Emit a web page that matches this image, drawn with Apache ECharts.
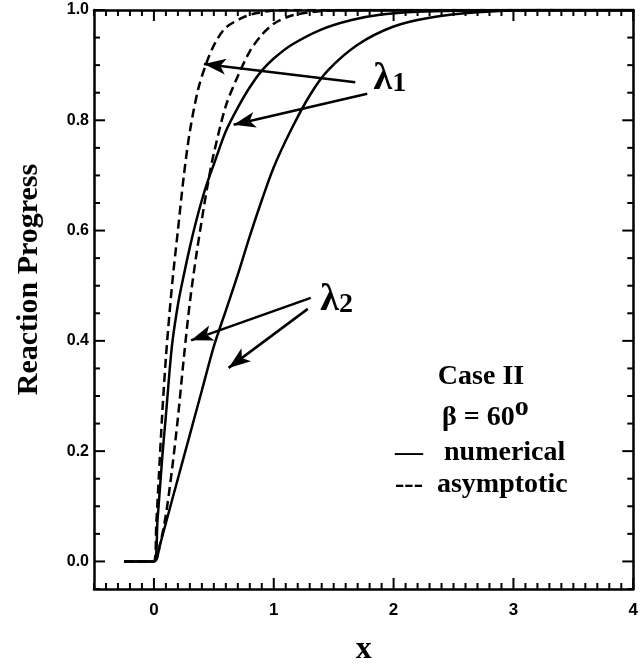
<!DOCTYPE html>
<html><head><meta charset="utf-8">
<script src="https://cdn.jsdelivr.net/npm/echarts@6/dist/echarts.min.js"></script>
<style>html,body{margin:0;padding:0;background:#fff}#c{width:641px;height:671px}</style>
</head><body><div id="c"></div>
<script>
// ---- data ----
const xTickValues = [0, 1, 2, 3, 4];
const yTickValues = [0, 0.2, 0.4, 0.6, 0.8, 1.0];

const lambda1NumX = [-0.25, 0, 0.03, 0.07, 0.1, 0.15, 0.2, 0.25, 0.3, 0.35, 0.4, 0.45, 0.5, 0.6, 0.7, 0.8, 0.9, 1.0, 1.15, 1.4, 1.65, 1.9, 2.2, 2.6, 3.0, 4.0];
const lambda1NumY = [0, 0, 0.075, 0.19, 0.265, 0.39, 0.465, 0.52, 0.57, 0.615, 0.655, 0.69, 0.72, 0.78, 0.823, 0.86, 0.89, 0.912, 0.937, 0.965, 0.982, 0.992, 0.997, 0.999, 1.0, 1.0];

const lambda2NumX = [-0.25, 0, 0.05, 0.1, 0.2, 0.3, 0.4, 0.5, 0.6, 0.7, 0.8, 0.9, 1.0, 1.15, 1.3, 1.45, 1.7, 2.0, 2.3, 2.7, 3.2, 4.0];
const lambda2NumY = [0, 0, 0.03, 0.07, 0.15, 0.23, 0.31, 0.39, 0.455, 0.52, 0.59, 0.655, 0.715, 0.785, 0.845, 0.89, 0.937, 0.97, 0.986, 0.996, 1.0, 1.0];

const lambda1AsyX = [-0.25, 0, 0.02, 0.04, 0.07, 0.1, 0.13, 0.16, 0.2, 0.25, 0.3, 0.37, 0.44, 0.51, 0.6, 0.74, 0.85, 1.0, 1.2, 4.0];
const lambda1AsyY = [0, 0, 0.07, 0.15, 0.27, 0.37, 0.45, 0.52, 0.60, 0.70, 0.78, 0.857, 0.905, 0.94, 0.968, 0.986, 0.994, 0.999, 1.0, 1.0];

const lambda2AsyX = [-0.25, 0, 0.05, 0.1, 0.15, 0.2, 0.25, 0.3, 0.35, 0.4, 0.45, 0.5, 0.6, 0.7, 0.8, 0.9, 1.0, 1.15, 1.4, 1.7, 4.0];
const lambda2AsyY = [0, 0, 0.03, 0.085, 0.165, 0.26, 0.37, 0.47, 0.55, 0.62, 0.685, 0.74, 0.826, 0.88, 0.925, 0.955, 0.975, 0.99, 0.998, 1.0, 1.0];

// annotation arrows: [fromX, fromY, toX, toY] in data units
const lambda1Arrows = [[1.680, 0.869, 0.417, 0.902], [1.780, 0.848, 0.665, 0.792]];
const lambda2Arrows = [[1.309, 0.478, 0.310, 0.401], [1.284, 0.458, 0.623, 0.351]];
// annotation label anchors (data units)
const lambda1LabelAt = [1.969, 0.875];
const lambda2LabelAt = [1.524, 0.474];

// legend / title texts
const caseText = 'Case II';
const betaText = 'β = 60';
const numericalText = '—   numerical';
const asymptoticText = '---  asymptotic';

// axis extents and minor tick positions (every 0.1 on x, every 0.05 on y)
const X_MIN = -0.5, X_MAX = 4, Y_MIN = -0.05, Y_MAX = 1;
const xMinorTicks = [];
for (let k = -5; k <= 40; k++) if (k % 10 !== 0) xMinorTicks.push(k / 10);
const yMinorTicks = [];
for (let k = -1; k <= 20; k++) if (k % 4 !== 0) yMinorTicks.push(k / 20);

// ---- chart ----
const SERIF = "'Liberation Serif', 'Times New Roman', serif";
const NARROW = "'Liberation Sans Narrow', 'Liberation Sans', Arial, sans-serif";
const zip = (xs, ys) => xs.map((x, i) => [x, ys[i]]);
const MAJOR_LEN = 11, MINOR_LEN = 6;

function baseAxis(position, min, max, interval) {
  return {
    type: 'value', position: position, min: min, max: max, interval: interval,
    splitLine: { show: false },
    axisLine: { show: true, onZero: false, lineStyle: { color: '#000', width: 2.5 } },
    axisTick: { show: false },
    axisLabel: { show: false }
  };
}
const xBottom = baseAxis('bottom', X_MIN, X_MAX, 0.5);
xBottom.axisLabel = {
  show: true, customValues: xTickValues, margin: 13,
  formatter: v => String(Math.round(v)),
  fontFamily: NARROW, fontWeight: 'bold', fontSize: 17, color: '#000'
};
xBottom.name = 'x';
xBottom.nameLocation = 'middle';
xBottom.nameGap = 45;
xBottom.nameTextStyle = { fontFamily: SERIF, fontWeight: 'bold', fontSize: 32, color: '#000' };
const xTop = baseAxis('top', X_MIN, X_MAX, 0.5);

const yLeft = baseAxis('left', Y_MIN, Y_MAX, 0.05);
yLeft.axisLabel = {
  show: true, customValues: yTickValues, margin: 5,
  formatter: v => v.toFixed(1),
  fontFamily: NARROW, fontWeight: 'bold', fontSize: 16, color: '#000'
};
yLeft.name = 'Reaction Progress';
yLeft.nameLocation = 'middle';
yLeft.nameGap = 50;
yLeft.nameTextStyle = { fontFamily: SERIF, fontWeight: 'bold', fontSize: 30, color: '#000', padding: [0, 0, 0, 40] };
const yRight = baseAxis('right', Y_MIN, Y_MAX, 0.05);

// tick marks drawn through the axes' own scales (inward, mirrored on both sides)
const xTickData = xTickValues.map(v => [v, 1]).concat(xMinorTicks.map(v => [v, 0]));
const yTickData = yTickValues.map(v => [1, v]).concat(yMinorTicks.map(v => [0, v]));
function tickLine(x1, y1, x2, y2) {
  return { type: 'line', shape: { x1: x1, y1: y1, x2: x2, y2: y2 }, style: { stroke: '#000', lineWidth: 2 } };
}
function renderXTick(params, api) {
  const v = api.value(0), len = api.value(1) ? MAJOR_LEN : MINOR_LEN;
  const b = api.coord([v, Y_MIN]), t = api.coord([v, Y_MAX]);
  return { type: 'group', children: [tickLine(b[0], b[1], b[0], b[1] - len), tickLine(t[0], t[1], t[0], t[1] + len)] };
}
function renderYTick(params, api) {
  const v = api.value(1), len = api.value(0) ? MAJOR_LEN : MINOR_LEN;
  const l = api.coord([X_MIN, v]), r = api.coord([X_MAX, v]);
  return { type: 'group', children: [tickLine(l[0], l[1], l[0] + len, l[1]), tickLine(r[0], r[1], r[0] - len, r[1])] };
}

function arrowLines(list) {
  return list.map(a => [{ coord: [a[0], a[1]] }, { coord: [a[2], a[3]] }]);
}
function lambdaLabel(at, sub) {
  return {
    coord: at, symbolSize: 0,
    label: {
      show: true, position: 'inside', color: '#000',
      formatter: '{l|λ}{s|' + sub + '}',
      rich: {
        l: { fontFamily: SERIF, fontWeight: 'bold', fontSize: 38, lineHeight: 38, verticalAlign: 'top', color: '#000' },
        s: { fontFamily: SERIF, fontWeight: 'bold', fontSize: 28, lineHeight: 28, padding: [18, 0, 0, 0], verticalAlign: 'bottom', color: '#000' }
      }
    }
  };
}

const lineBase = { type: 'line', showSymbol: false, symbol: 'none', smooth: 0.3, animation: false, silent: true };

const chart = echarts.init(document.getElementById('c'));
chart.setOption({
  animation: false,
  backgroundColor: '#fff',
  grid: { left: 94, right: 3, top: 10, bottom: 74 },
  xAxis: [xBottom, xTop],
  yAxis: [yLeft, yRight],
  series: [
    Object.assign({}, lineBase, {
      name: 'λ1 numerical', data: zip(lambda1NumX, lambda1NumY),
      lineStyle: { color: '#000', width: 2.5, type: 'solid' },
      markLine: {
        silent: true, symbol: ['none', 'arrow'], symbolSize: [12, 22],
        label: { show: false }, lineStyle: { color: '#000', width: 2.5, type: 'solid' },
        data: arrowLines(lambda1Arrows).concat(arrowLines(lambda2Arrows))
      },
      markPoint: { silent: true, data: [lambdaLabel(lambda1LabelAt, '1'), lambdaLabel(lambda2LabelAt, '2')] }
    }),
    Object.assign({}, lineBase, {
      name: 'λ2 numerical', data: zip(lambda2NumX, lambda2NumY),
      lineStyle: { color: '#000', width: 2.5, type: 'solid' }
    }),
    Object.assign({}, lineBase, {
      name: 'λ1 asymptotic', data: zip(lambda1AsyX, lambda1AsyY),
      lineStyle: { color: '#000', width: 2.5, type: [9, 5] }
    }),
    Object.assign({}, lineBase, {
      name: 'λ2 asymptotic', data: zip(lambda2AsyX, lambda2AsyY),
      lineStyle: { color: '#000', width: 2.5, type: [9, 5] }
    }),
    { type: 'custom', name: 'x ticks', clip: false, z: 5,
      data: xTickData, encode: { x: 0, y: 1 }, renderItem: renderXTick },
    { type: 'custom', name: 'y ticks', clip: false, z: 5,
      data: yTickData, encode: { x: 0, y: 1 }, renderItem: renderYTick }
  ],
  graphic: [
    { type: 'text', x: 481, y: 377, silent: true,
      style: { text: caseText, font: "bold 28px " + SERIF, fill: '#000', align: 'center', verticalAlign: 'middle' } },
    { type: 'text', x: 442, y: 408, silent: true,
      style: { text: '{a|' + betaText + '}{b|o}', fill: '#000', align: 'left', verticalAlign: 'middle',
        rich: {
          a: { fontFamily: SERIF, fontWeight: 'bold', fontSize: 28, lineHeight: 28, padding: [19, 0, 0, 0], fill: '#000' },
          b: { fontFamily: SERIF, fontWeight: 'bold', fontSize: 28, lineHeight: 28, verticalAlign: 'top', fill: '#000' }
        } } },
    { type: 'text', x: 395, y: 453, silent: true,
      style: { text: numericalText, font: "bold 28px " + SERIF, fill: '#000', align: 'left', verticalAlign: 'middle' } },
    { type: 'text', x: 395, y: 485, silent: true,
      style: { text: asymptoticText, font: "bold 28px " + SERIF, fill: '#000', align: 'left', verticalAlign: 'middle' } }
  ]
});
</script>
</body></html>
